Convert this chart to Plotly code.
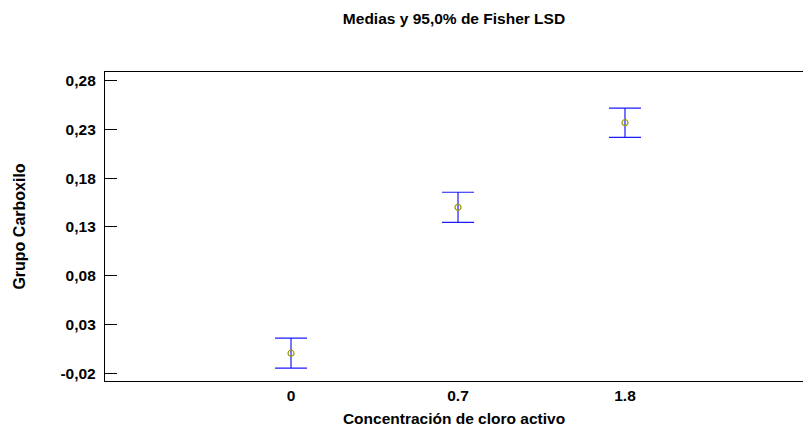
import plotly.graph_objects as go

categories = ["0", "0.7", "1.8"]
means = [0.0006, 0.1502, 0.2369]
lsd_half = [0.0154, 0.0154, 0.0150]
ytick_vals = [-0.02, 0.03, 0.08, 0.13, 0.18, 0.23, 0.28]
ytick_text = ["-0,02", "0,03", "0,08", "0,13", "0,18", "0,23", "0,28"]

FONT = "Arial, Liberation Sans, sans-serif"
xpos = list(range(len(categories)))

fig = go.Figure()
fig.add_trace(go.Scatter(
    x=xpos, y=means, mode="markers",
    marker=dict(symbol="circle-open", size=6, color="#9a9a00", line=dict(width=1.2)),
    error_y=dict(type="data", array=lsd_half, symmetric=True,
                 color="#1a1aff", thickness=1.2, width=16),
    showlegend=False, hoverinfo="skip",
))

fig.update_layout(
    width=803, height=427,
    margin=dict(l=105, r=0, t=72, b=46),
    paper_bgcolor="white", plot_bgcolor="white",
    font=dict(family=FONT, size=16, color="black"),
    title=dict(text="<b>Medias y 95,0% de Fisher LSD</b>", x=0.5, xref="paper",
               y=1 - 19 / 427, yref="container", yanchor="middle",
               font=dict(size=15.5, family=FONT, color="black")),
    xaxis=dict(
        range=[-1.114, 3.066], tickvals=xpos,
        ticktext=["<b>%s</b>" % c for c in categories],
        ticks="", showgrid=False, zeroline=False,
        showline=True, linecolor="black", linewidth=1.3, mirror=True,
        title=dict(text="<b>Concentración de cloro activo</b>", standoff=10,
                   font=dict(size=15.5)),
        tickfont=dict(size=15.5),
    ),
    yaxis=dict(
        range=[-0.0279, 0.2889], tickvals=ytick_vals,
        ticktext=["<b>%s</b>" % t for t in ytick_text],
        ticks="inside", ticklen=12, tickcolor="black", tickwidth=1,
        ticklabelstandoff=5,
        showgrid=False, zeroline=False,
        showline=True, linecolor="black", linewidth=1.3, mirror=False,
        title=dict(text="<b>Grupo Carboxilo</b>", standoff=30, font=dict(size=16)),
        tickfont=dict(size=15.5),
    ),
    yaxis2=dict(
        overlaying="y", side="right", range=[-0.0279, 0.2889],
        tickvals=ytick_vals, showticklabels=False,
        ticks="inside", ticklen=4, tickcolor="black", tickwidth=1,
        showgrid=False, zeroline=False, showline=False,
    ),
)

fig.write_html("out.html")
